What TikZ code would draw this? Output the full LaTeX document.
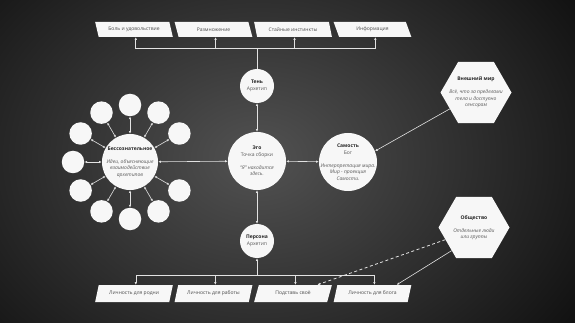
\documentclass[tikz,border=0pt]{standalone}
\usepackage{fontspec}
\setmainfont{Open Sans}
\usepackage{tikz}
\usetikzlibrary{arrows.meta,positioning,calc,shapes.geometric}
\definecolor{bgin}{HTML}{525252}
\definecolor{bgout}{HTML}{020202}
\definecolor{linegray}{HTML}{E2E2E2}
\definecolor{titlegray}{HTML}{262626}
\definecolor{notegray}{HTML}{585858}
\definecolor{paper}{HTML}{F7F7F7}

\begin{document}
\begin{tikzpicture}[
  x=1pt, y=-1pt,
  every node/.style={inner sep=0pt, text=notegray, font=\fontsize{5}{6.5}\selectfont},
  bubble/.style   ={circle, fill=paper, align=center, inner sep=-8pt},
  satellite/.style={circle, fill=paper, minimum size=22.5pt},
  hexa/.style     ={regular polygon, regular polygon sides=6, fill=paper,
                    minimum size=71pt, align=center, inner sep=-6pt},
  upbox/.style    ={trapezium, trapezium left angle=118, trapezium right angle=62,
                    trapezium stretches=true, fill=paper, text=black!70,
                    minimum width=78pt, minimum height=15pt},
  downbox/.style  ={upbox, trapezium left angle=62, trapezium right angle=118,
                    minimum height=17pt},
  ln/.style       ={draw=linegray, line width=0.6pt},
  ar/.style       ={ln, -{Latex[length=2.6pt,width=2.4pt]}},
  dar/.style      ={ln, {Latex[length=2.6pt,width=2.4pt]}-{Latex[length=2.6pt,width=2.4pt]}}]

% bold dark first line of a node
\newcommand{\nodetitle}[1]{{\bfseries\color{titlegray}#1}}

% ---------------------------- background ------------------------------
\begin{scope}
  \clip (0,0) rectangle (575,323);
  \fill[bgout] (0,0) rectangle (575,323);
  \shade[inner color=bgin, outer color=bgout] (258,158) ellipse [x radius=470, y radius=360];
\end{scope}
\useasboundingbox (0,0) rectangle (575,323);

% ----------------------------- circles --------------------------------
\node[bubble, minimum size=58pt] (ego) at (257,161)
  {\nodetitle{Эго}\\Точка сборки\\[6.5pt]\textit{“Я” находится}\\\textit{здесь.}};
\node[bubble, minimum size=34pt] (shadow) at (257,86) {\nodetitle{Тень}\\Архетип};
\node[bubble, minimum size=34pt] (persona) at (257,241) {\nodetitle{Персона}\\Архетип};
\node[bubble, minimum size=58pt] (self) at (348,162)
  {\nodetitle{Самость}\\Бог\\[6.5pt]\textit{Интерпретация мира.}\\\textit{Мир - проекция}\\\textit{Самости.}};
\node[bubble, minimum size=56pt] (unc) at (130,162)
  {\nodetitle{Бессознательное}\\[6.5pt]\textit{Идеи, объясняющие}\\\textit{взаимодействие}\\\textit{архетипов}};

% archetypes round the unconscious
\foreach \a [count=\k] in {90,60,30,-30,-60,-90,-120,-150,180,150,120}{
  \node[satellite] (sat\k) at ($(unc)+(\a:57)$) {};
  \draw[dar] (unc) -- (sat\k);
}

% ----------------------------- hexagons -------------------------------
\node[hexa] (outer) at (476,92.5)
  {\nodetitle{Внешний мир}\\[6.5pt]\textit{Всё, что за пределами}\\\textit{тела и доступно}\\\textit{сенсорам}};
\node[hexa] (society) at (474,227.5)
  {\nodetitle{Общество}\\[6.5pt]\textit{Отдельные люди}\\\textit{или группы}};

% ------------------------------ boxes ---------------------------------
\foreach \t [count=\k] in {Боль и удовольствие, Размножение, Стайные инстинкты, Информация}
  \node[upbox] (need\k) at (54.5+79.5*\k,29.5) {\t};
\foreach \t [count=\k] in {Личность для родни, Личность для работы, Подставь своё, Личность для блога}
  \node[downbox] (mask\k) at (54.5+79.5*\k,293.5) {\t};

% ---------------------------- connectors ------------------------------
\coordinate (tbus) at (257,48);
\coordinate (bbus) at (257,275);
\draw[ln] (shadow.north) -- (tbus);
\foreach \k in {1,...,4}{
  \draw[ar] (tbus) -| ($(need\k.bottom left corner)!0.5!(need\k.bottom right corner)$);
  \draw[ar] (bbus) -| ($(mask\k.top left corner)!0.5!(mask\k.top right corner)$);
}
\draw[ar] (bbus) -- (persona);

\draw[dar] (shadow) -- (ego);
\draw[dar] (ego) -- (persona);
\draw[dar] (ego) -- (unc);
\draw[dar] (ego) -- (self);

\draw[ar] (outer.212) -- (self.22);
\draw[ar, line width=0.8pt, dash pattern=on 3pt off 2.5pt]
  (society.203) -- ($(mask3.top left corner)!0.8!(mask3.top right corner)$);
\draw[ar] (society.226) -- ($(mask4.top left corner)!0.8!(mask4.top right corner)$);

\end{tikzpicture}
\end{document}
